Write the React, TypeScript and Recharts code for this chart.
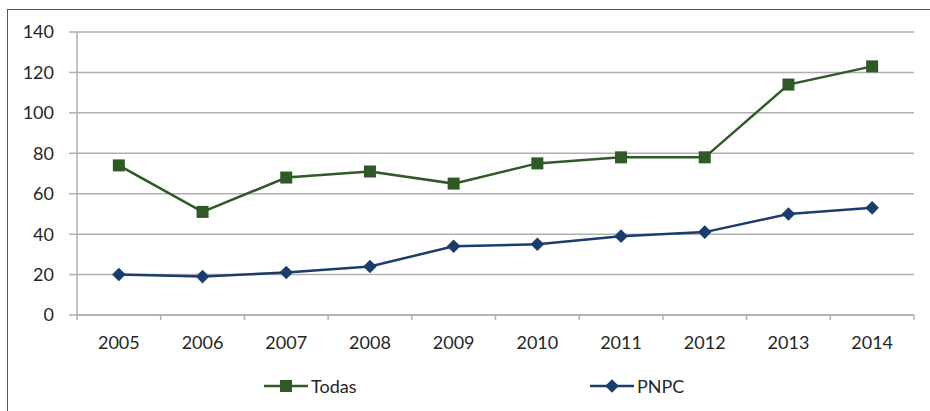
import { LineChart, Line, XAxis, YAxis, CartesianGrid, Legend } from 'recharts';

const years = ['2005', '2006', '2007', '2008', '2009', '2010', '2011', '2012', '2013', '2014'];
const todas = [74, 51, 68, 71, 65, 75, 78, 78, 114, 123];
const pnpc = [20, 19, 21, 24, 34, 35, 39, 41, 50, 53];
const yTicks = [0, 20, 40, 60, 80, 100, 120, 140];

const GREEN = '#2f5a27';
const NAVY = '#1b3d6d';
const GRID = '#b0b0b0';
const FONT = 'Lato, "Open Sans", sans-serif';

const data = years.map((year, i) => ({ year, todas: todas[i], pnpc: pnpc[i] }));

// marcador cuadrado
function Square({ cx, cy, size = 12, color = GREEN }: any) {
  if (cx == null || cy == null) return <g />;
  return <rect x={cx - size / 2} y={cy - size / 2} width={size} height={size} fill={color} />;
}

// marcador rombo
function Diamond({ cx, cy, r = 6.8, color = NAVY }: any) {
  if (cx == null || cy == null) return <g />;
  return <polygon points={`${cx},${cy - r} ${cx + r},${cy} ${cx},${cy + r} ${cx - r},${cy}`} fill={color} />;
}

// etiqueta del eje X con marcas entre categorias
function YearTick({ x, y, payload, index, width, visibleTicksCount }: any) {
  const count = visibleTicksCount || years.length;
  const step = (width || 837) / count;
  return (
    <g>
      <line x1={x - step / 2} x2={x - step / 2} y1={y} y2={y + 5} stroke={GRID} strokeWidth={1.5} />
      {index === count - 1 && (
        <line x1={x + step / 2} x2={x + step / 2} y1={y} y2={y + 5} stroke={GRID} strokeWidth={1.5} />
      )}
      <text x={x} y={y + 27} textAnchor="middle" dominantBaseline="central" fill="#262626" fontSize={18} fontFamily={FONT}>
        {payload.value}
      </text>
    </g>
  );
}

function LegendBox() {
  const item = (left: number, label: string, color: string, marker: JSX.Element) => (
    <div style={{ position: 'absolute', left, top: 0, height: 24, display: 'flex', alignItems: 'center' }}>
      <svg width={44} height={24}>
        <line x1={0} x2={44} y1={12} y2={12} stroke={color} strokeWidth={2.5} />
        {marker}
      </svg>
      <span style={{ marginLeft: 3, fontSize: 18, color: '#262626', fontFamily: FONT }}>{label}</span>
    </div>
  );
  return (
    <div style={{ position: 'relative', width: 930, height: 24 }}>
      {item(264, 'Todas', GREEN, <Square cx={22} cy={12} />)}
      {item(590, 'PNPC', NAVY, <Diamond cx={22} cy={12} />)}
    </div>
  );
}

export default function App() {
  return (
    <div style={{ position: 'absolute', left: 0, top: 0, width: 930, height: 411, background: '#fff', overflow: 'hidden' }}>
      <div
        style={{
          position: 'absolute',
          left: 7,
          top: 9,
          width: 940,
          height: 420,
          borderLeft: '1.5px solid #595959',
          borderTop: '1.5px solid #595959',
        }}
      />
      <div style={{ position: 'absolute', left: 0, top: 0 }}>
        <LineChart width={930} height={411} data={data} margin={{ top: 32, right: 16, left: 0, bottom: 13 }}>
          <CartesianGrid vertical={false} stroke={GRID} strokeWidth={1.5} />
          <XAxis
            dataKey="year"
            scale="band"
            height={59}
            tickSize={0}
            tickMargin={0}
            tickLine={false}
            axisLine={{ stroke: GRID, strokeWidth: 1.5 }}
            tick={<YearTick />}
            interval={0}
          />
          <YAxis
            width={77}
            domain={[0, 140]}
            ticks={yTicks}
            tickSize={8}
            tickMargin={15}
            axisLine={{ stroke: GRID, strokeWidth: 1.5 }}
            tickLine={{ stroke: GRID, strokeWidth: 1.5 }}
            tick={{ fill: '#262626', fontSize: 18, fontFamily: FONT }}
          />
          <Legend verticalAlign="bottom" content={<LegendBox />} wrapperStyle={{ left: 0, width: 930 }} />
          <Line
            dataKey="todas"
            name="Todas"
            stroke={GREEN}
            strokeWidth={2.5}
            dot={(p: any) => <Square key={`t-${p.index}`} cx={p.cx} cy={p.cy} />}
            isAnimationActive={false}
          />
          <Line
            dataKey="pnpc"
            name="PNPC"
            stroke={NAVY}
            strokeWidth={2.5}
            dot={(p: any) => <Diamond key={`p-${p.index}`} cx={p.cx} cy={p.cy} />}
            isAnimationActive={false}
          />
        </LineChart>
      </div>
    </div>
  );
}
